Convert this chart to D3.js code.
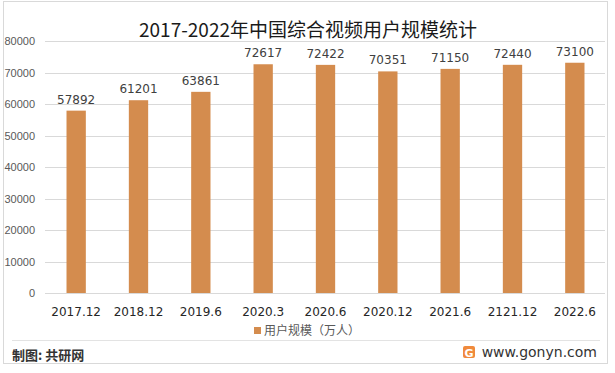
<!DOCTYPE html>
<html>
<head>
<meta charset="utf-8">
<script src="https://cdn.jsdelivr.net/npm/d3@7"></script>
<style>
  body { margin: 0; background: #fff; }
  svg { display: block; font-family: "Microsoft YaHei", "Noto Sans CJK SC", sans-serif; }
</style>
</head>
<body>
<svg id="viz"></svg>
<script>
const categories = ["2017.12", "2018.12", "2019.6", "2020.3", "2020.6", "2020.12", "2021.6", "2121.12", "2022.6"];
const users = [57892, 61201, 63861, 72617, 72422, 70351, 71150, 72440, 73100];
const yTicks = [0, 10000, 20000, 30000, 40000, 50000, 60000, 70000, 80000];

const width = 615, height = 373;
const barColor = "#d48c4e";

const svg = d3.select("#viz")
    .attr("width", width)
    .attr("height", height);

// outer frame + footer separator
svg.append("rect")
    .attr("x", 3.5).attr("y", 1.5)
    .attr("width", 604).attr("height", 362)
    .attr("fill", "#fff")
    .attr("stroke", "#d9d9d9");
svg.append("line")
    .attr("x1", 12).attr("x2", 600)
    .attr("y1", 340.5).attr("y2", 340.5)
    .attr("stroke", "#e3e3e3");

const x = d3.scaleBand().domain(categories).range([45, 606]).paddingInner(0.69).paddingOuter(0.345);
const y = d3.scaleLinear().domain([0, 80000]).range([293, 41]);

// gridlines
svg.append("g")
  .selectAll("line")
  .data(yTicks)
  .join("line")
    .attr("x1", 45).attr("x2", 605)
    .attr("y1", d => Math.round(y(d)) + 0.5)
    .attr("y2", d => Math.round(y(d)) + 0.5)
    .attr("stroke", "#d9d9d9");

// y tick labels
svg.append("g")
    .style("font", "11px 'Liberation Sans', Arial, sans-serif")
    .attr("fill", "#595959")
    .attr("text-anchor", "end")
  .selectAll("text")
  .data(yTicks)
  .join("text")
    .attr("x", 35)
    .attr("y", d => y(d) + 4)
    .text(d => d);

// bars
svg.append("g")
  .selectAll("rect")
  .data(users)
  .join("rect")
    .attr("x", (d, i) => x(categories[i]))
    .attr("width", x.bandwidth())
    .attr("y", d => y(d))
    .attr("height", d => y(0) - y(d))
    .attr("fill", barColor);

// value labels
svg.append("g")
    .style("font", "12px 'DejaVu Sans', sans-serif")
    .attr("fill", "#404040")
    .attr("text-anchor", "middle")
  .selectAll("text")
  .data(users)
  .join("text")
    .attr("x", (d, i) => x(categories[i]) + x.bandwidth() / 2)
    .attr("y", d => y(d) - 7)
    .text(d => d);

// x labels
svg.append("g")
    .style("font", "12px 'DejaVu Sans', sans-serif")
    .attr("fill", "#262626")
    .attr("text-anchor", "middle")
  .selectAll("text")
  .data(categories)
  .join("text")
    .attr("x", d => x(d) + x.bandwidth() / 2)
    .attr("y", 316)
    .text(d => d);

// title
svg.append("text")
    .attr("x", 308).attr("y", 37)
    .attr("text-anchor", "middle")
    .style("font-size", "19px")
    .attr("fill", "#1a1a1a")
    .text("2017-2022年中国综合视频用户规模统计");

// legend
const legend = svg.append("g").attr("transform", "translate(254,326)");
legend.append("rect").attr("width", 7).attr("height", 7).attr("y", 1).attr("fill", barColor);
legend.append("text")
    .attr("x", 10).attr("y", 9)
    .style("font-size", "12px")
    .attr("fill", "#595959")
    .text("用户规模（万人）");

// footer
svg.append("text")
    .attr("x", 12).attr("y", 360)
    .style("font-size", "13px")
    .style("font-weight", "bold")
    .attr("fill", "#333")
    .text("制图: 共研网");

const logo = svg.append("g").attr("transform", "translate(463,346)");
logo.append("rect").attr("width", 12).attr("height", 12).attr("rx", 2).attr("fill", "#f08a3c");
logo.append("text").attr("x", 6).attr("y", 10.5).attr("text-anchor", "middle")
    .style("font", "bold 11px 'DejaVu Sans', sans-serif").attr("fill", "#fff").text("G");
svg.append("text")
    .attr("x", 597).attr("y", 357)
    .attr("text-anchor", "end")
    .style("font", "14px 'DejaVu Sans', sans-serif")
    .attr("fill", "#333")
    .text("www.gonyn.com");
</script>
</body>
</html>
